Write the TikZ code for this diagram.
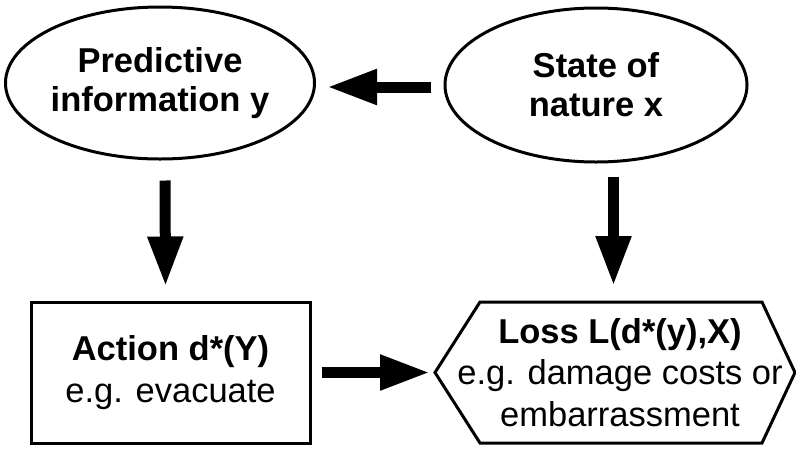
\documentclass[tikz,border=0pt]{standalone}
\usepackage{fontspec}
\setmainfont{Liberation Sans}
\usetikzlibrary{shapes.geometric,arrows.meta}

\begin{document}
\begin{tikzpicture}[x=1pt,y=-1pt,
    bubble/.style={ellipse, draw, line width=3pt, inner sep=0pt, align=center,
        minimum width=300pt, minimum height=152pt,
        font=\fontsize{34.5}{39}\selectfont\bfseries},
    boxtext/.style={align=center, inner sep=0pt, font=\fontsize{34.5}{41.5}\selectfont},
    bigarrow/.style={line width=11pt, -{Triangle[length=50pt,width=33pt]}}]
    % Background
    \useasboundingbox (0,0) rectangle (796,448);

    % Ellipses
    \node[bubble] (info) at (160,83) {Predictive\\information y};
    \node[bubble, minimum width=302pt, minimum height=154pt] (nature) at (596,85) {State of\\nature x};

    % Action box
    \node[boxtext, draw, line width=3pt, minimum width=279pt, minimum height=141pt] (action) at (170.5,372.5)
        {\textbf{Action d*(Y)}\\e.g. evacuate};

    % Loss hexagon
    \node[boxtext] (loss) at (620,372.5)
        {\textbf{Loss L(d*(y),X)}\\e.g. damage costs or\\embarrassment};
    \coordinate (losstop) at (621,302);
    \coordinate (lossleft) at (435,372.5);
    \draw[line width=3pt, line join=miter] (480,302) -- (762,302) -- (795,372.5)
        -- (762,443) -- (480,443) -- (lossleft) -- cycle;

    % Arrows
    \draw[bigarrow] ([xshift=-13pt,yshift=-2pt]nature.west) coordinate (tail) -- ([xshift=11pt]info.east |- tail);
    \draw[bigarrow] ([xshift=5pt,yshift=-20pt]info.south) -- ([xshift=-5pt,yshift=14pt]action.north);
    \draw[bigarrow] ([xshift=17.5pt,yshift=-13pt]nature.south) -- ([xshift=-7.5pt,yshift=16pt]losstop);
    \draw[bigarrow] ([xshift=10pt]action.east |- lossleft) -- ([xshift=-5pt]lossleft);
\end{tikzpicture}
\end{document}
